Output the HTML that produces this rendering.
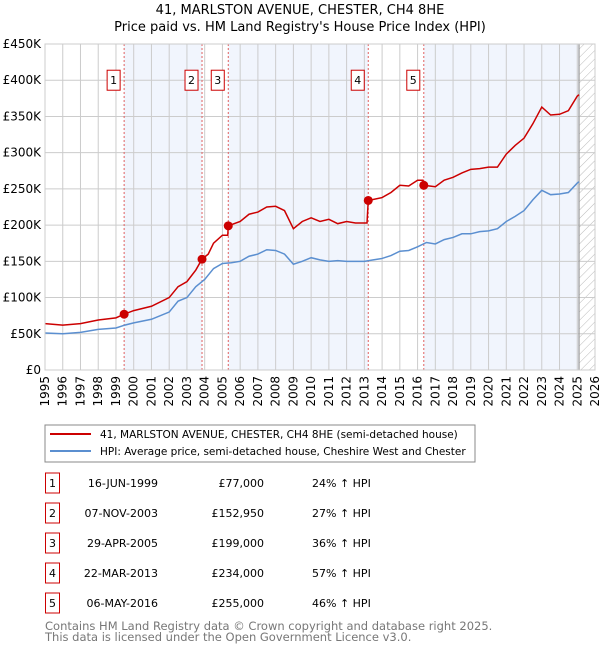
<!DOCTYPE html>
<html><head><meta charset="utf-8"><style>
body{margin:0;background:#fff;width:600px;height:650px;overflow:hidden;font-family:"DejaVu Sans","Liberation Sans",sans-serif}
svg text{font-family:"DejaVu Sans","Liberation Sans",sans-serif}
</style></head><body>
<svg id="c" width="600" height="650" xmlns="http://www.w3.org/2000/svg">
<defs><pattern id="hatch" width="6" height="6" patternUnits="userSpaceOnUse" patternTransform="rotate(45)"><line x1="0" y1="0" x2="0" y2="6" stroke="#bbb" stroke-width="1"/></pattern></defs>
<text x="300" y="14" text-anchor="middle" font-size="13">41, MARLSTON AVENUE, CHESTER, CH4 8HE</text>
<text x="300" y="31" text-anchor="middle" font-size="13">Price paid vs. HM Land Registry's House Price Index (HPI)</text>
<g id="plot"></g>
<g>
<rect x="45" y="425" width="430" height="37" fill="#fff" stroke="#888"/>
<line x1="50" y1="434" x2="91" y2="434" stroke="#cc0000" stroke-width="2"/>
<text x="100" y="438" font-size="10.5">41, MARLSTON AVENUE, CHESTER, CH4 8HE (semi-detached house)</text>
<line x1="50" y1="451" x2="91" y2="451" stroke="#5b8fd0" stroke-width="2"/>
<text x="100" y="455" font-size="10.5">HPI: Average price, semi-detached house, Cheshire West and Chester</text>
</g>
<g id="table"></g>
<text x="45" y="630" font-size="11.5" fill="#777">Contains HM Land Registry data © Crown copyright and database right 2025.</text>
<text x="45" y="641" font-size="11.5" fill="#777">This data is licensed under the Open Government Licence v3.0.</text>
</svg>
<script>
const hpiYears=[1995,1996,1997,1998,1999,1999.5,2000,2001,2002,2002.5,2003,2003.5,2004,2004.5,2005,2005.5,2006,2006.5,2007,2007.5,2008,2008.5,2009,2009.5,2010,2010.5,2011,2011.5,2012,2012.5,2013,2013.5,2014,2014.5,2015,2015.5,2016,2016.5,2017,2017.5,2018,2018.5,2019,2019.5,2020,2020.5,2021,2021.5,2022,2022.5,2023,2023.5,2024,2024.5,2025,2025.1];
const hpiValues=[51,50,52,56,58,62,65,70,80,95,100,115,125,140,147,148,150,157,160,166,165,160,146,150,155,152,150,151,150,150,150,152,154,158,164,165,170,176,174,180,183,188,188,191,192,195,205,212,220,235,248,242,243,245,258,260];
const propYears=[1995,1996,1997,1998,1999,1999.46,2000,2001,2002,2002.5,2003,2003.5,2003.85,2004.2,2004.5,2005,2005.3,2005.33,2006,2006.5,2007,2007.5,2008,2008.5,2009,2009.5,2010,2010.5,2011,2011.5,2012,2012.5,2013.15,2013.22,2014,2014.5,2015,2015.5,2016,2016.3,2016.35,2017,2017.5,2018,2018.5,2019,2019.5,2020,2020.5,2021,2021.5,2022,2022.5,2023,2023.5,2024,2024.5,2025,2025.1];
const propValues=[64,62,64,69,72,77,82,88,100,115,122,138,153,160,175,186,186,199,205,215,218,225,226,220,195,205,210,205,208,202,205,203,203,234,238,245,255,254,262,262,255,253,262,266,272,277,278,280,280,298,310,320,340,363,352,353,358,378,380];
const saleYears=[1999.46,2003.85,2005.33,2013.22,2016.35];
const saleValues=[77,152.95,199,234,255];
const saleLabels=["1","2","3","4","5"];
const saleDates=["16-JUN-1999","07-NOV-2003","29-APR-2005","22-MAR-2013","06-MAY-2016"];
const salePrices=["£77,000","£152,950","£199,000","£234,000","£255,000"];
const saleHpi=["24% ↑ HPI","27% ↑ HPI","36% ↑ HPI","57% ↑ HPI","46% ↑ HPI"];
const yTicks=[0,50,100,150,200,250,300,350,400,450];
const yTickLabels=["£0","£50K","£100K","£150K","£200K","£250K","£300K","£350K","£400K","£450K"];
const xTicks=[1995,1996,1997,1998,1999,2000,2001,2002,2003,2004,2005,2006,2007,2008,2009,2010,2011,2012,2013,2014,2015,2016,2017,2018,2019,2020,2021,2022,2023,2024,2025,2026];
const dataEnd=2025.1;

const X0=45,X1=595,Y0=370,Y1=44;
const x=v=>X0+(v-1995)/(2026-1995)*(X1-X0);
const y=v=>Y0-v/450*(Y0-Y1);
const NS="http://www.w3.org/2000/svg";
function mk(parent,tag,attrs){const e=document.createElementNS(NS,tag);for(const k in attrs)e.setAttribute(k,attrs[k]);parent.appendChild(e);return e;}
const g=document.getElementById('plot');
const bounds=[...saleYears,dataEnd];
for(let i=0;i<saleYears.length;i++){
  if(i%2===0){
    const r=mk(g,'rect',{x:x(bounds[i]),y:Y1,width:x(bounds[i+1])-x(bounds[i]),height:Y0-Y1,fill:'#eef3fc',opacity:0.8});
    
    
  }
}
const h=mk(g,'rect',{x:x(dataEnd),y:Y1,width:X1-x(dataEnd),height:Y0-Y1,fill:'url(#hatch)'});


yTicks.forEach((t,i)=>{
  const l=mk(g,'line',{x1:X0,x2:X1,y1:y(t),y2:y(t),stroke:'#ccc'});
  
  
  const tx=mk(g,'text',{x:X0-4,y:y(t)+4,'text-anchor':'end','font-size':12});
  tx.textContent=yTickLabels[i];
  
  
});
xTicks.forEach(t=>{
  const l=mk(g,'line',{x1:x(t),x2:x(t),y1:Y1,y2:Y0,stroke:'#ccc'});
  
  
  const tx=mk(g,'text',{x:0,y:0,'text-anchor':'end','font-size':12,transform:`translate(${x(t)+4},${Y0+6}) rotate(-90)`});
  tx.textContent=t;
  
  
});
const el=mk(g,'line',{x1:x(dataEnd),x2:x(dataEnd),y1:Y1,y2:Y0,stroke:'#999','stroke-width':1.2});


saleYears.forEach((s,i)=>{
  const l=mk(g,'line',{x1:x(s),x2:x(s),y1:Y1,y2:Y0,stroke:'#e06060','stroke-dasharray':'2,2'});
  
  
  const bx=mk(g,'rect',{x:x(s)-17,y:y(400)-10,width:13,height:20,fill:'#fff',stroke:'#cc0000'});
  
  
  const tx=mk(g,'text',{x:x(s)-10.5,y:y(400)+4,'text-anchor':'middle','font-size':11});
  tx.textContent=saleLabels[i];
  
  
});
const hp=mk(g,'polyline',{points:hpiYears.map((v,i)=>x(v)+','+y(hpiValues[i])).join(' '),fill:'none',stroke:'#5b8fd0','stroke-width':1.5});


const pp=mk(g,'polyline',{points:propYears.map((v,i)=>x(v)+','+y(propValues[i])).join(' '),fill:'none',stroke:'#cc0000','stroke-width':1.5});


saleYears.forEach((s,i)=>{
  const c=mk(g,'circle',{cx:x(s),cy:y(saleValues[i]),r:4.5,fill:'#cc0000'});
  
  
});
const fr=mk(g,'rect',{x:X0,y:Y1,width:X1-X0,height:Y0-Y1,fill:'none',stroke:'#ccc'});


const tb=document.getElementById('table');
saleLabels.forEach((lab,i)=>{
  const cy=483+i*30;
  const b=mk(tb,'rect',{x:45.5,y:cy-10,width:14,height:20,fill:'#fff',stroke:'#cc0000'});
  
  
  const cells=[[52.5,lab,'middle','table-row-number'],[158,saleDates[i],'end','table-row-date'],[264,salePrices[i],'end','table-row-price'],[312,saleHpi[i],'start','table-row-hpi']];
  cells.forEach(c=>{
    const t=mk(tb,'text',{x:c[0],y:cy+4,'text-anchor':c[2],'font-size':11});
    t.textContent=c[1];
    
    
  });
});
</script>
</body></html>
